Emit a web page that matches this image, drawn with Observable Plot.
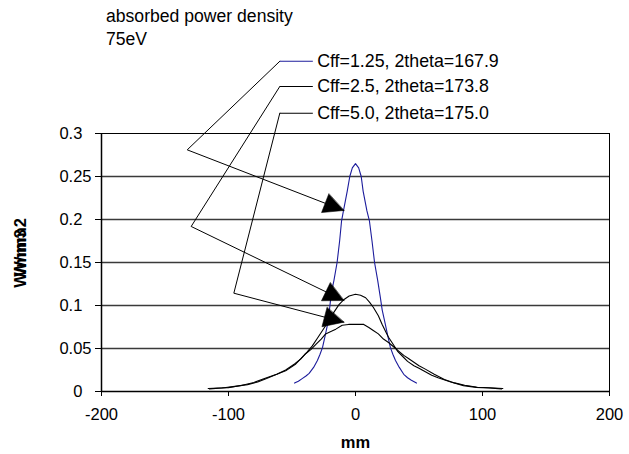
<!DOCTYPE html>
<html><head><meta charset="utf-8">
<script src="https://cdn.jsdelivr.net/npm/d3@7"></script>
<script src="https://cdn.jsdelivr.net/npm/@observablehq/plot@0.6"></script>
<style>
body{margin:0;background:#fff;}
#wrap{position:relative;width:629px;height:454px;font-family:"Liberation Sans",Arial,sans-serif;}
#title{position:absolute;left:106px;top:5px;font-size:17.6px;line-height:23px;color:#000;}
#chart{position:absolute;left:0;top:0;}
</style></head><body>
<div id="wrap"><div id="chart"></div><div id="title">absorbed power density<br>75eV</div></div>
<script>
// ---- data ----
const seriesNames = ["Cff=1.25, 2theta=167.9", "Cff=2.5, 2theta=173.8", "Cff=5.0, 2theta=175.0"];
const seriesColors = ["#1c1c9c", "#000000", "#000000"];

const xCff125 = [-48, -45, -42, -39, -36.5, -33, -30, -28, -26, -24, -22, -20.5, -19, -17, -14.5, -12.5, -11, -9.5, -6.5, -4.5, -2.5, 0, 2.5, 4.5, 6, 9, 11, 13, 15, 17.5, 19.5, 21, 23.5, 25.5, 27.5, 29.5, 31.5, 34.5, 38, 41, 44, 48];
const yCff125 = [0.0098, 0.012, 0.015, 0.018, 0.021, 0.028, 0.036, 0.043, 0.051, 0.064, 0.078, 0.095, 0.115, 0.129, 0.150, 0.175, 0.198, 0.210, 0.233, 0.250, 0.260, 0.265, 0.260, 0.250, 0.233, 0.210, 0.198, 0.175, 0.150, 0.129, 0.110, 0.095, 0.078, 0.064, 0.051, 0.043, 0.036, 0.028, 0.020, 0.016, 0.013, 0.0098];

const xCff25 = [-115, -105, -95, -85, -77, -70, -62, -55, -48, -43, -38, -34, -30, -26, -22, -18, -13, -9, -5, 0, 4, 8, 11, 14, 18, 21, 24, 26, 30, 33, 37, 41, 46, 50, 55, 60, 65, 75, 85, 95, 105, 115];
const yCff25 = [0.003, 0.004, 0.006, 0.008, 0.011, 0.015, 0.020, 0.025, 0.032, 0.038, 0.046, 0.053, 0.062, 0.071, 0.080, 0.090, 0.101, 0.107, 0.111, 0.113, 0.112, 0.109, 0.104, 0.098, 0.088, 0.078, 0.069, 0.063, 0.054, 0.047, 0.041, 0.035, 0.030, 0.027, 0.023, 0.019, 0.016, 0.011, 0.0068, 0.0048, 0.004, 0.003];

const xCff50 = [-116, -108, -100, -90, -80, -70, -62, -55, -47, -40, -35, -31, -27, -23.5, -19, -15.5, -10.5, -5.5, 0, 6.5, 10.5, 14, 18, 22, 26, 30, 34, 38, 42, 46, 50, 55, 62, 70, 78, 86, 96, 106, 116];
const yCff50 = [0.0035, 0.004, 0.0045, 0.007, 0.0105, 0.016, 0.020, 0.024, 0.032, 0.043, 0.049, 0.055, 0.061, 0.067, 0.070, 0.0725, 0.077, 0.078, 0.078, 0.078, 0.0745, 0.071, 0.067, 0.061, 0.057, 0.052, 0.047, 0.042, 0.038, 0.034, 0.030, 0.026, 0.020, 0.014, 0.010, 0.0072, 0.005, 0.0043, 0.0035];

const xTicks = [-200, -100, 0, 100, 200];
const yTicks = [0, 0.05, 0.1, 0.15, 0.2, 0.25, 0.3];
const yTickLabels = ["0\u2007", "0.05", "0.1\u2007", "0.15", "0.2\u2007", "0.25", "0.3\u2007"];
const xLabel = "mm";
const yLabels = ["W/mm2", "W/mm3"];

// legend / callout annotation positions (data units)
const legendY = [0.384, 0.3547, 0.3236];
const legendX = [-59.6, -33.6];
const legendTextX = -30.2;
const elbowX = [-132.5, -129.4, -95.8];
const elbowY = [0.281, 0.1919, 0.1143];
const tipX = [-9.2, -9.2, -9.2];
const tipY = [0.2105, 0.1058, 0.0806];

// ---- layout ----
const W = 629, H = 454;
const mL = 101, mR = 20, mT = 133, mB = 63;
const xDomain = [-200, 200], yDomain = [0, 0.3];
const FONT = "Liberation Sans, Arial, sans-serif";

const seriesX = [xCff125, xCff25, xCff50];
const seriesY = [yCff125, yCff25, yCff50];
const rows = [];
seriesNames.forEach((s, k) => seriesX[k].forEach((x, i) => rows.push({series: s, x, y: seriesY[k][i]})));

const legendRows = seriesNames.map((s, k) => ({series: s, y: legendY[k]}));
const leaderRows = [];
seriesNames.forEach((s, k) => {
  leaderRows.push({id: k, x: legendX[0], y: legendY[k]});
  leaderRows.push({id: k, x: elbowX[k], y: elbowY[k]});
  leaderRows.push({id: k, x: tipX[k], y: tipY[k]});
});
const xs = d3.scaleLinear(xDomain, [mL, W - mR]);
const ys = d3.scaleLinear(yDomain, [H - mB, mT]);
const headRows = seriesNames.map((s, k) => {
  const dx = xs(tipX[k]) - xs(elbowX[k]);
  const dy = ys(tipY[k]) - ys(elbowY[k]);
  return {x: tipX[k], y: tipY[k], r: Math.atan2(dx, -dy) * 180 / Math.PI};
});
const triangle = {draw(ctx, l) { ctx.moveTo(0, -l); ctx.lineTo(10, 0); ctx.lineTo(-10, 0); ctx.closePath(); }};

const chart = Plot.plot({
  width: W, height: H,
  marginLeft: mL, marginRight: mR, marginTop: mT, marginBottom: mB,
  style: {fontFamily: FONT, fontSize: "16px", color: "#000", background: "transparent", overflow: "visible"},
  x: {domain: xDomain},
  y: {domain: yDomain},
  color: {domain: seriesNames, range: seriesColors},
  marks: [
    Plot.ruleY(yTicks.slice(1, -1), {stroke: "#3a3a3a", strokeWidth: 1.3}),
    Plot.frame({stroke: "#000", strokeWidth: 1}),
    Plot.ruleY([0], {stroke: "#000", strokeWidth: 1.5}),
    Plot.ruleX([-200], {stroke: "#000", strokeWidth: 1.5}),
    Plot.axisY(yTicks, {tickSize: 6, tickPadding: 4, tickFormat: d => yTickLabels[yTicks.indexOf(d)], label: null, fontSize: 16.5, stroke: "#000"}),
    Plot.axisX(xTicks, {tickSize: 5, tickPadding: 12, tickFormat: d => String(d), label: null, fontSize: 16.5, stroke: "#000"}),
    Plot.line(rows, {x: "x", y: "y", z: "series", stroke: "series", strokeWidth: 1.1}),
    Plot.line(leaderRows, {x: "x", y: "y", z: "id", stroke: "#000", strokeWidth: 1}),
    Plot.vector(headRows, {x: "x", y: "y", rotate: "r", length: 20, anchor: "end", shape: triangle, fill: "#000", stroke: "#000", strokeWidth: 0.5}),
    Plot.link(legendRows, {x1: legendX[0], x2: legendX[1], y1: "y", y2: "y", stroke: "series", strokeWidth: 1.1}),
    Plot.text(legendRows, {x: legendTextX, y: "y", text: "series", textAnchor: "start", fontSize: 17.8, fill: "#000"}),
    Plot.text([xLabel], {frameAnchor: "bottom", dy: 56, text: d => d, fontWeight: "bold", fontSize: 16.5, fill: "#000"}),
    Plot.text([yLabels[0]], {frameAnchor: "left", textAnchor: "middle", dx: -81, dy: -15, text: d => d, rotate: -90, fontWeight: "bold", fontSize: 16.5, fill: "#000"}),
    Plot.text([yLabels[1]], {frameAnchor: "left", textAnchor: "middle", dx: -81, dy: -4, text: d => d, rotate: -90, fontWeight: "bold", fontSize: 16.5, fill: "#000"})
  ]
});
document.getElementById("chart").appendChild(chart);
</script>
</body></html>
